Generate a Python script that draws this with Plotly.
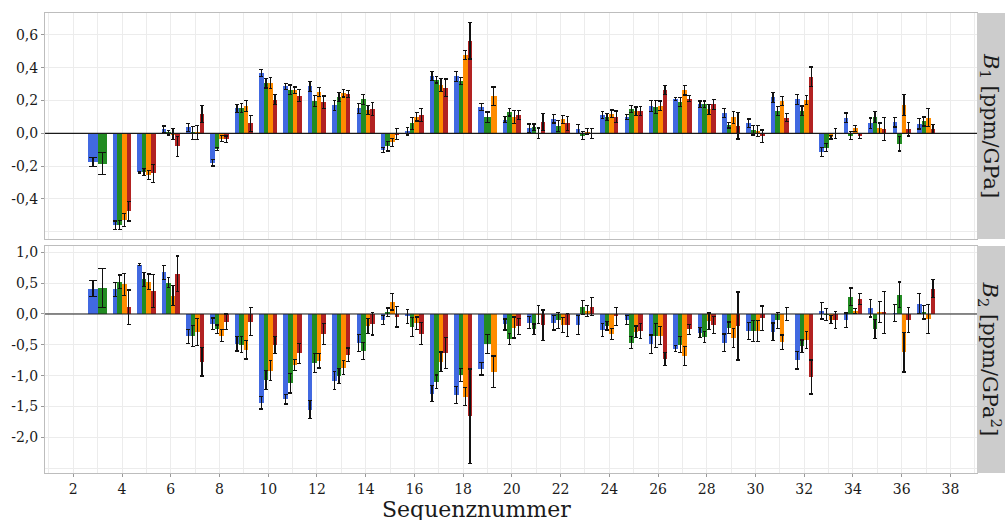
import plotly.graph_objects as go

# Sequence numbers on the x axis
SEQ = list(range(3, 38))

# B1 coefficients [ppm/GPa] per series and their uncertainties
B1_S1 = [-0.175, -0.56, -0.237, 0.024, 0.037, -0.18, 0.153, 0.367, 0.286, 0.286, 0.17, 0.153, -0.1, 0.012, 0.35, 0.347, 0.162, 0.084, 0.03, 0.09, 0.027, 0.11, 0.1, 0.167, 0.208, 0.177, 0.122, 0.06, 0.22, 0.208, -0.116, 0.096, 0.06, 0.068, 0.057]
B1_E1 = [0.027, 0.025, 0.005, 0.02, 0.025, 0.02, 0.025, 0.02, 0.017, 0.032, 0.03, 0.03, 0.015, 0.022, 0.026, 0.03, 0.022, 0.02, 0.027, 0.027, 0.028, 0.022, 0.015, 0.033, 0.01, 0.02, 0.028, 0.027, 0.03, 0.03, 0.027, 0.028, 0.033, 0.03, 0.031]
B1_S2 = [-0.186, -0.56, -0.237, 0.003, 0.003, -0.097, 0.155, 0.306, 0.265, 0.198, 0.22, 0.208, -0.078, 0.06, 0.327, 0.32, 0.098, 0.128, 0.037, 0.045, -0.014, 0.1, 0.148, 0.16, 0.192, 0.177, 0.05, 0.02, 0.137, 0.139, -0.087, -0.014, 0.1, -0.064, 0.072]
B1_E2 = [0.067, 0.026, 0.022, 0.013, 0.04, 0.01, 0.027, 0.03, 0.03, 0.034, 0.028, 0.03, 0.03, 0.035, 0.02, 0.022, 0.032, 0.022, 0.02, 0.032, 0.026, 0.02, 0.022, 0.038, 0.027, 0.02, 0.018, 0.03, 0.027, 0.028, 0.025, 0.025, 0.035, 0.044, 0.027]
B1_S3 = [None, -0.53, -0.255, -0.005, 0.004, -0.032, 0.168, 0.306, 0.263, 0.253, 0.244, 0.143, -0.055, 0.1, 0.294, 0.478, 0.227, 0.1, 0.0, 0.085, 0.01, 0.12, 0.135, 0.167, 0.264, 0.147, 0.098, 0.014, 0.198, 0.204, -0.025, 0.03, 0.03, 0.173, 0.096]
B1_E3 = [None, 0.04, 0.027, 0.035, 0.044, 0.018, 0.034, 0.035, 0.02, 0.027, 0.022, 0.028, 0.025, 0.025, 0.038, 0.028, 0.055, 0.04, 0.032, 0.025, 0.018, 0.022, 0.025, 0.03, 0.03, 0.03, 0.036, 0.034, 0.027, 0.026, 0.01, 0.018, 0.033, 0.066, 0.055]
B1_S4 = [None, -0.475, -0.243, -0.08, 0.118, -0.037, 0.06, 0.206, 0.23, 0.19, 0.24, 0.15, -0.006, 0.112, 0.278, 0.565, None, 0.11, 0.07, 0.06, 0.0, 0.1, 0.135, 0.264, 0.212, 0.177, 0.045, -0.018, 0.096, 0.345, 0.0, -0.016, 0.028, 0.024, 0.027]
B1_E4 = [None, 0.06, 0.055, 0.06, 0.052, 0.02, 0.05, 0.03, 0.035, 0.038, 0.022, 0.04, 0.034, 0.04, 0.053, 0.112, None, 0.028, 0.053, 0.041, 0.03, 0.036, 0.028, 0.027, 0.02, 0.03, 0.08, 0.038, 0.024, 0.06, 0.03, 0.016, 0.07, 0.04, 0.028]

# B2 coefficients [ppm/GPa^2] per series and their uncertainties
B2_S1 = [0.41, 0.4, 0.8, 0.675, -0.36, -0.16, -0.48, -1.44, -1.38, -1.55, -1.08, -0.47, -0.1, -0.04, -1.29, -1.31, -0.89, -0.17, -0.14, -0.14, -0.18, -0.26, -0.1, -0.49, -0.56, -0.3, -0.465, -0.275, -0.29, -0.75, 0.05, -0.1, 0.09, 0.015, 0.17]
B2_E1 = [0.127, 0.115, 0.02, 0.11, 0.114, 0.095, 0.12, 0.1, 0.08, 0.143, 0.143, 0.14, 0.075, 0.11, 0.125, 0.135, 0.1, 0.09, 0.1, 0.12, 0.15, 0.1, 0.07, 0.15, 0.045, 0.085, 0.14, 0.135, 0.145, 0.14, 0.13, 0.115, 0.14, 0.14, 0.16]
B2_S2 = [0.42, 0.52, 0.56, 0.51, -0.36, -0.245, -0.5, -1.07, -1.12, -0.79, -1.0, -0.6, 0.027, -0.21, -1.1, -0.99, -0.49, -0.41, -0.25, -0.1, 0.11, -0.19, -0.465, -0.35, -0.5, -0.37, -0.22, -0.28, -0.1, -0.52, -0.01, 0.28, -0.245, 0.31, 0.03]
B2_E2 = [0.32, 0.113, 0.108, 0.08, 0.17, 0.068, 0.13, 0.15, 0.16, 0.155, 0.12, 0.135, 0.07, 0.155, 0.11, 0.11, 0.155, 0.09, 0.087, 0.13, 0.115, 0.07, 0.095, 0.19, 0.13, 0.09, 0.09, 0.17, 0.13, 0.1, 0.1, 0.14, 0.15, 0.21, 0.11]
B2_S3 = [None, 0.48, 0.52, 0.297, -0.29, -0.35, -0.58, -0.92, -0.83, -0.76, -0.87, -0.19, 0.2, -0.15, -0.775, -1.34, -0.935, -0.22, -0.01, -0.18, 0.05, -0.32, -0.29, -0.35, -0.68, -0.115, -0.385, -0.28, -0.46, -0.42, -0.09, 0.05, 0.03, -0.62, -0.085]
B2_E3 = [None, 0.18, 0.127, 0.165, 0.22, 0.1, 0.15, 0.16, 0.09, 0.115, 0.115, 0.12, 0.135, 0.1, 0.16, 0.146, 0.255, 0.17, 0.143, 0.12, 0.085, 0.09, 0.095, 0.15, 0.15, 0.13, 0.155, 0.17, 0.12, 0.135, 0.07, 0.045, 0.17, 0.32, 0.235]
B2_S4 = [None, 0.108, 0.37, 0.65, -0.775, -0.125, -0.125, -0.5, -0.64, -0.33, -0.66, -0.16, -0.045, -0.32, -0.63, -1.655, None, -0.2, -0.185, -0.18, 0.12, -0.04, -0.28, -0.73, -0.25, -0.18, -0.195, -0.07, 0.0, -1.02, -0.1, 0.24, 0.03, -0.1, 0.41]
B2_E4 = [None, 0.28, 0.27, 0.29, 0.23, 0.124, 0.23, 0.135, 0.16, 0.17, 0.11, 0.18, 0.165, 0.18, 0.25, 0.765, None, 0.13, 0.25, 0.19, 0.15, 0.15, 0.12, 0.11, 0.08, 0.135, 0.55, 0.2, 0.1, 0.275, 0.14, 0.09, 0.34, 0.2, 0.145]

# Tick positions and labels
X_TICKS = list(range(2, 39, 2))
B1_TICKS = [-0.4, -0.2, 0.0, 0.2, 0.4, 0.6]
B1_TICKTEXT = ["-0,4", "-0,2", "0,0", "0,2", "0,4", "0,6"]
B2_TICKS = [-2.0, -1.5, -1.0, -0.5, 0.0, 0.5, 1.0]
B2_TICKTEXT = ["-2,0", "-1,5", "-1,0", "-0,5", "0,0", "0,5", "1,0"]

COLORS = ["#4169E1", "#228B22", "#FF8C00", "#B22222"]
FONT = "DejaVu Serif"
GROUP_WIDTH = 0.75
X_RANGE = [0.84, 39.09]
PANEL_PX = 932
PX_PER_UNIT = PANEL_PX / (X_RANGE[1] - X_RANGE[0])
GRID = "#ececec"
BORDER = "#bdbdbd"

fig = go.Figure()


def add_panel(values, errors, xref, yref):
    """Dodge the bars of each sequence number and add them (with error bars)."""
    groups = {}
    for i, seq in enumerate(SEQ):
        present = [k for k in range(len(values)) if values[k][i] is not None]
        n = len(present)
        w = GROUP_WIDTH / n
        for j, k in enumerate(present):
            g = groups.setdefault((k, n), {"x": [], "y": [], "w": [], "e": []})
            g["x"].append(seq - GROUP_WIDTH / 2 + w * (j + 0.5))
            g["y"].append(values[k][i])
            g["w"].append(w)
            g["e"].append(errors[k][i])
    for (k, n), g in sorted(groups.items()):
        half_cap = 0.42 * (GROUP_WIDTH / n) * PX_PER_UNIT
        fig.add_trace(go.Bar(
            x=g["x"], y=g["y"], width=g["w"],
            marker=dict(color=COLORS[k], line=dict(width=0)),
            error_y=dict(type="data", array=g["e"], visible=True,
                         color="#111111", thickness=1.2, width=half_cap),
            xaxis=xref, yaxis=yref, showlegend=False,
        ))


add_panel([B1_S1, B1_S2, B1_S3, B1_S4], [B1_E1, B1_E2, B1_E3, B1_E4], "x2", "y2")
add_panel([B2_S1, B2_S2, B2_S3, B2_S4], [B2_E1, B2_E2, B2_E3, B2_E4], "x", "y")

axis_common = dict(
    showline=True, mirror=True, linecolor=BORDER, linewidth=1,
    gridcolor=GRID, gridwidth=1, zeroline=False,
    tickfont=dict(family=FONT, size=14, color="#1a1a1a"),
)

fig.update_layout(
    width=1005, height=520,
    margin=dict(l=45, r=28, t=13, b=47),
    plot_bgcolor="white", paper_bgcolor="white",
    barmode="overlay", bargap=0,
    showlegend=False,
    xaxis=dict(
        **axis_common, range=X_RANGE, anchor="y",
        tickvals=X_TICKS, ticks="outside", ticklen=3, tickcolor="#999999",
        minor=dict(dtick=1, tick0=1, showgrid=True, gridcolor=GRID, ticks=""),
    ),
    xaxis2=dict(
        **axis_common, range=X_RANGE, anchor="y2", matches="x",
        tickvals=X_TICKS, showticklabels=False, ticks="",
        minor=dict(dtick=1, tick0=1, showgrid=True, gridcolor=GRID, ticks=""),
    ),
    yaxis=dict(
        **axis_common, domain=[0, 0.4935], range=[-2.577, 1.102],
        tickvals=B2_TICKS, ticktext=B2_TICKTEXT,
        ticks="outside", ticklen=3, tickcolor="#999999",
        minor=dict(tickvals=[-2.5], showgrid=True, gridcolor=GRID, ticks=""),
    ),
    yaxis2=dict(
        **axis_common, domain=[0.5087, 1], range=[-0.645, 0.734],
        tickvals=B1_TICKS, ticktext=B1_TICKTEXT,
        ticks="outside", ticklen=3, tickcolor="#999999",
        minor=dict(tickvals=[-0.6], showgrid=True, gridcolor=GRID, ticks=""),
    ),
)

# Zero reference lines
for xd, yr in (("x domain", "y"), ("x2 domain", "y2")):
    fig.add_shape(type="line", xref=xd, yref=yr, x0=0, x1=1, y0=0, y1=0,
                  line=dict(color="#1a1a1a", width=1.2), layer="above")

# Facet strips on the right
strip_x1 = 1 + 40 / PANEL_PX
for yd, label in (("y2 domain", "<i>B</i><sub>1</sub> [ppm/GPa]"),
                  ("y domain", "<i>B</i><sub>2</sub> [ppm/GPa<sup>2</sup>]")):
    fig.add_shape(type="rect", xref="paper", yref=yd, x0=1, x1=strip_x1, y0=0, y1=1,
                  fillcolor="#cccccc", line=dict(width=0), layer="above")
    fig.add_annotation(xref="paper", yref=yd, x=1 + 13 / PANEL_PX, y=0.5,
                       text=label, textangle=90, showarrow=False,
                       xanchor="center", yanchor="middle",
                       font=dict(family=FONT, size=21, color="#1a1a1a"))

# Axis title
fig.add_annotation(xref="paper", yref="paper", x=(476 - 45) / PANEL_PX, y=0,
                   yshift=-36, yanchor="middle", showarrow=False,
                   text="Sequenznummer",
                   font=dict(family=FONT, size=22, color="#1a1a1a"))

fig.write_html("out.html")
